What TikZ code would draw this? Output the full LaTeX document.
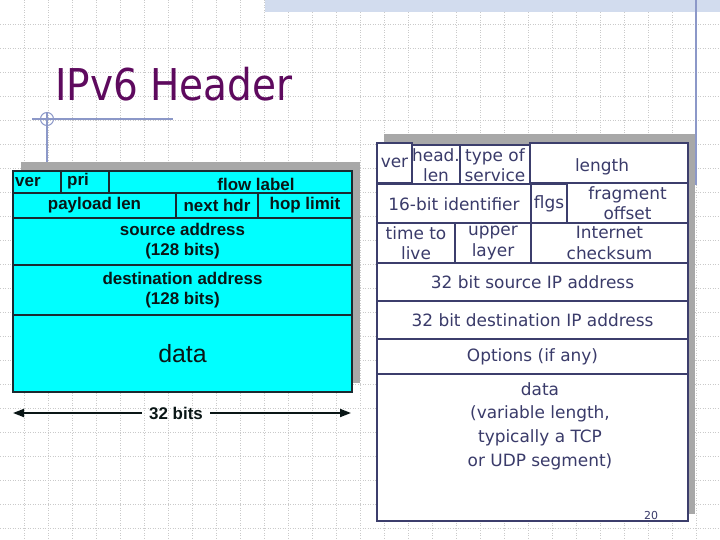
\documentclass[tikz,border=0pt]{standalone}
\usepackage{fontspec}
\setmainfont{Liberation Sans}
\newfontfamily\comicf{DejaVu Sans}
\newfontfamily\titlef{DejaVu Sans}
\usetikzlibrary{arrows.meta}
\definecolor{gridc}{HTML}{CACACA}
\definecolor{bandc}{HTML}{D2DCEE}
\definecolor{decoc}{HTML}{8C98C8}
\definecolor{titlec}{HTML}{5E0A5E}
\definecolor{shadowc}{HTML}{A8A8A8}
\definecolor{cyanf}{HTML}{00FFFF}
\definecolor{lbord}{HTML}{1A2A30}
\definecolor{ltext}{HTML}{0A1616}
\definecolor{rbord}{HTML}{3C3E6C}
\definecolor{rtext}{HTML}{3A3B6A}
\begin{document}
\begin{tikzpicture}[x=1bp,y=-1bp,
  lf/.style={draw=lbord, fill=cyanf, line width=1.6bp, inner sep=0pt, text=ltext,
     font=\bfseries\fontsize{17}{20}\selectfont, align=center},
  ltxt/.style={inner sep=0pt, text=ltext, font=\bfseries\fontsize{17}{20}\selectfont},
  rf/.style={draw=rbord, fill=white, line width=2.2bp, inner sep=0pt, text=rtext,
     font=\comicf\fontsize{17}{20.5}\selectfont, align=center},
  rtxt/.style={inner sep=0pt, text=rtext, font=\comicf\fontsize{17}{24}\selectfont, align=center},
  shadow/.style={fill=shadowc, draw=none}]
\useasboundingbox (0,0) rectangle (720,540);
% grid
\foreach \i in {1,...,29} \draw[gridc, line width=0.7bp, dash pattern=on 1bp off 1.5bp] (24*\i,0) -- (24*\i,540);
\foreach \j in {1,...,22} \draw[gridc, line width=0.7bp, dash pattern=on 1bp off 1.5bp] (0,24*\j) -- (720,24*\j);
% top band and decorations
\fill[bandc] (265,0) rectangle (720,12);
\draw[decoc, line width=1.2bp] (696,0) -- (696,185);
\draw[decoc, line width=1.2bp] (32,119) -- (173,119);
\draw[decoc, line width=1.2bp] (47,112) -- (47,168);
\draw[decoc, line width=1bp] (47,119) circle[radius=6.5];
% title
\node[anchor=base west, inner sep=0pt, text=titlec, font=\titlef\fontsize{44}{50}\selectfont] (title) at (55,101) {\scalebox{0.89}[1]{IPv6 Header}};
% ---------- left box (IPv6) ----------
\fill[shadow] (21,162) rectangle (360,383);
\node[lf, minimum width=48bp, minimum height=22bp] (lver) at (37,182) {};
\node[lf, minimum width=48bp, minimum height=22bp] (lpri) at (85,182) {};
\node[lf, minimum width=243bp, minimum height=22bp] (lflow) at (230.5,182) {};
\node[ltxt, anchor=west] (tver) at (15,182) {ver};
\node[ltxt, anchor=west] (tpri) at (67,181) {pri};
\node[ltxt] (tflow) at (256,184) {flow label};
\node[lf, minimum width=163bp, minimum height=25bp] (lpay) at (94.5,205.5) {payload len};
\node[lf, minimum width=82bp, minimum height=25bp] (lnext) at (217,205.5) {next hdr};
\node[lf, minimum width=94bp, minimum height=25bp] (lhop) at (305,205.5) {hop limit};
\node[lf, minimum width=339bp, minimum height=47bp] (lsrc) at (182.5,241.5) {source address\\(128 bits)};
\node[lf, minimum width=339bp, minimum height=50bp] (ldst) at (182.5,290) {destination address\\(128 bits)};
\node[lf, minimum width=339bp, minimum height=77bp, font=\fontsize{25}{28}\selectfont] (ldata) at (182.5,353.5) {data};
% 32 bits arrow
\node[ltxt, inner xsep=7bp] (bits) at (176,413) {32 bits};
\coordinate (aL) at (13,413);
\coordinate (aR) at (351,413);
\draw[line width=1.8bp, -{Triangle[length=11bp,width=8bp]}, ltext] (bits.west) -- (aL);
\draw[line width=1.8bp, -{Triangle[length=11bp,width=8bp]}, ltext] (bits.east) -- (aR);
% ---------- right box (IPv4) ----------
\fill[shadow] (384,134) rectangle (695,514);
\node[rf, minimum width=35bp, minimum height=40bp] (rver) at (394.5,163) {ver};
\node[rf, minimum width=48bp, minimum height=40bp] (rhead) at (436,165) {head.\\len};
\node[rf, minimum width=70bp, minimum height=40bp] (rtos) at (495,165) {type of\\service};
\node[rf, minimum width=158bp, minimum height=40bp] (rlen) at (609,163) {};
\node[rtxt] (tlen) at (602,167) {length};
\node[rf, minimum width=154bp, minimum height=40bp] (rid) at (454,204) {16-bit identifier};
\node[rf, minimum width=36bp, minimum height=40bp] (rflg) at (549,204) {flgs};
\node[rf, minimum width=121bp, minimum height=40bp] (rfrag) at (627.5,203) {fragment\\offset};
\node[rf, minimum width=78bp, minimum height=40bp] (rttl) at (416,243) {time to\\live};
\node[rf, minimum width=76bp, minimum height=40bp] (rup) at (493,243) {upper\\layer};
\node[rf, minimum width=157bp, minimum height=40bp] (rcks) at (609.5,243) {Internet\\checksum};
\node[rf, minimum width=311bp, minimum height=38bp] (rsrc) at (532.5,282) {32 bit source IP address};
\node[rf, minimum width=311bp, minimum height=38bp] (rdst) at (532.5,320) {32 bit destination IP address};
\node[rf, minimum width=311bp, minimum height=35bp] (ropt) at (532.5,356.5) {Options (if any)};
\node[rf, minimum width=311bp, minimum height=147bp] (rdata) at (532.5,447.5) {};
\node[rtxt, anchor=north] (tdata) at (540,382) {data\\(variable length,\\typically a TCP\\or UDP segment)};
\node[inner sep=0pt, text=rtext, font=\comicf\fontsize{11}{12}\selectfont] (pg) at (651,516) {20};
\end{tikzpicture}
\end{document}
